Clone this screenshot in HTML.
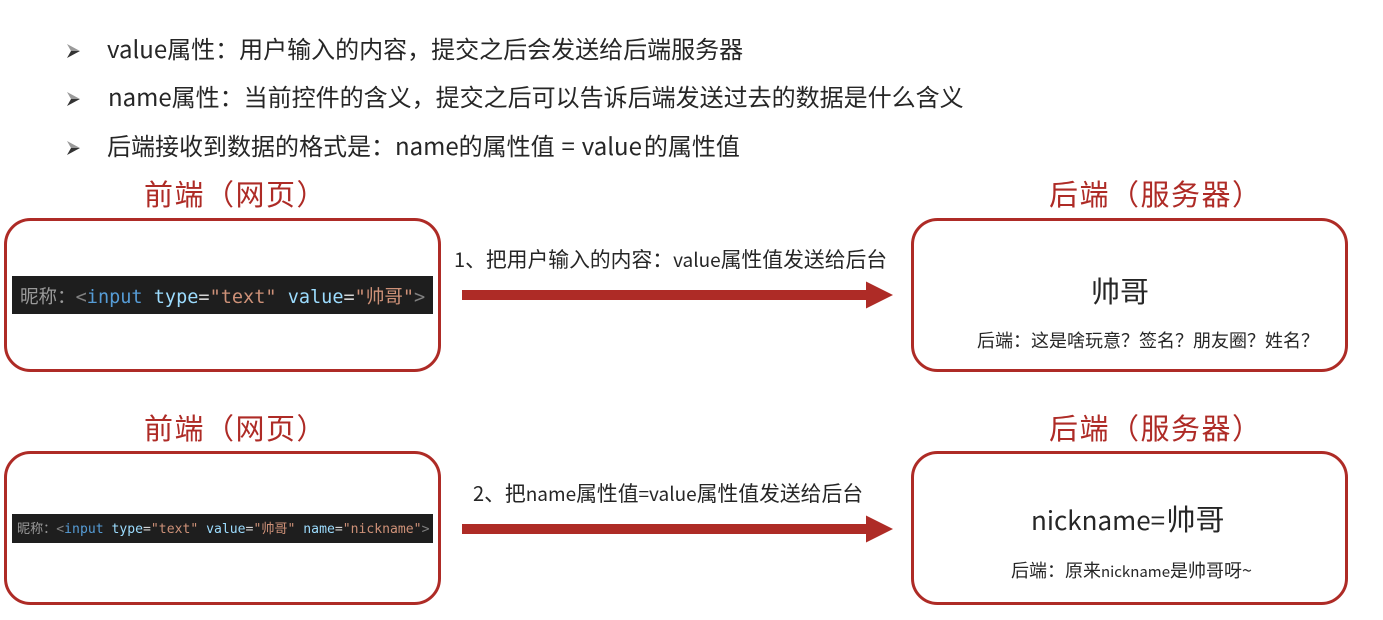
<!DOCTYPE html>
<html><head><meta charset="utf-8">
<style>
html,body{margin:0;padding:0;background:#fff;width:1383px;height:620px;overflow:hidden}
svg{display:block}
text{font-family:"Noto Sans CJK SC","Liberation Sans",sans-serif;fill:#262626;text-spacing-trim:space-all;font-feature-settings:"palt" 0,"halt" 0,"chws" 0}
.b{font-size:24px}
.h{font-size:29px;fill:#ae2b26;letter-spacing:1.500px}
.m{font-size:20.800px}
.l{font-size:19px}
.n{font-size:20px}
.s{font-size:18px}
.sl{font-size:15px}
.c{font-family:"DejaVu Sans Mono","Liberation Mono","Noto Sans CJK SC",monospace}
</style></head><body>
<svg width="1383" height="620" viewBox="0 0 1383 620" xmlns="http://www.w3.org/2000/svg">
<defs><g id="bu"><path d="M0 0L13 7L4 7Z" fill="#9a9a9a"/><path d="M0 14L13 7L4 7Z" fill="#333"/></g></defs>
<use href="#bu" x="67" y="44"/><use href="#bu" x="67" y="92"/><use href="#bu" x="67" y="141"/>
<text class="b" x="107" y="58">value属性：用户输入的内容，提交之后会发送给后端服务器</text>
<text class="b" x="108" y="106">name属性：当前控件的含义，提交之后可以告诉后端发送过去的数据是什么含义</text>
<text class="b" x="107" y="155" word-spacing="1.500">后端接收到数据的格式是：name的属性值 = value<tspan dx="2">的属性值</tspan></text>

<text class="h" x="144" y="205">前端（网页）</text>
<text class="h" x="1049" y="205">后端（服务器）</text>
<text class="h" x="144" y="439">前端（网页）</text>
<text class="h" x="1049" y="439">后端（服务器）</text>

<g fill="none" stroke="#ae2b26" stroke-width="3">
<rect x="5.500" y="219.500" width="434" height="151" rx="25"/>
<rect x="912.500" y="219.500" width="434" height="151" rx="25"/>
<rect x="5.500" y="452.500" width="434" height="151" rx="25"/>
<rect x="912.500" y="452.500" width="434" height="151" rx="25"/>
</g>

<rect x="12" y="276" width="421" height="38" fill="#1e1e1e"/>
<text class="c" y="303" x="20" font-size="18.550" style="fill:#9a9a9a">昵称：<tspan style="fill:#808080">&lt;</tspan><tspan style="fill:#569cd6">input</tspan> <tspan style="fill:#9cdcfe">type</tspan><tspan style="fill:#d4d4d4">=</tspan><tspan style="fill:#ce9178">"text"</tspan> <tspan style="fill:#9cdcfe">value</tspan><tspan style="fill:#d4d4d4">=</tspan><tspan style="fill:#ce9178">"帅哥"</tspan><tspan style="fill:#808080">&gt;</tspan></text>

<rect x="12" y="514" width="421" height="29" fill="#1e1e1e"/>
<text class="c" y="533" x="17" font-size="13.100" style="fill:#9a9a9a">昵称：<tspan style="fill:#808080">&lt;</tspan><tspan style="fill:#569cd6">input</tspan> <tspan style="fill:#9cdcfe">type</tspan><tspan style="fill:#d4d4d4">=</tspan><tspan style="fill:#ce9178">"text"</tspan> <tspan style="fill:#9cdcfe">value</tspan><tspan style="fill:#d4d4d4">=</tspan><tspan style="fill:#ce9178">"帅哥"</tspan> <tspan style="fill:#9cdcfe">name</tspan><tspan style="fill:#d4d4d4">=</tspan><tspan style="fill:#ce9178">"nickname"</tspan><tspan style="fill:#808080">&gt;</tspan></text>

<text class="m" x="454" y="267"><tspan class="n">1</tspan>、把用户输入的内容：<tspan class="l">value</tspan>属性值发送给后台</text>
<text class="m" x="473" y="501"><tspan class="n">2</tspan>、把<tspan class="l">name</tspan>属性值<tspan class="l">=value</tspan>属性值发送给后台</text>

<path d="M462 290H866V281.500L893 295L866 308.500V300H462Z" fill="#ae2b26"/>
<path d="M462 524H866V515.500L893 529L866 542.500V534H462Z" fill="#ae2b26"/>

<text x="1091" y="302" font-size="29">帅哥</text>
<text class="s" x="977" y="347">后端：这是啥玩意？签名？朋友圈？姓名？</text>
<text x="1031" y="530" font-size="29"><tspan font-size="26">nickname=</tspan><tspan dx="1.500">帅哥</tspan></text>
<text class="s" x="1011" y="577">后端：原来<tspan class="sl">nickname</tspan>是帅哥呀~</text>
</svg>
</body></html>
